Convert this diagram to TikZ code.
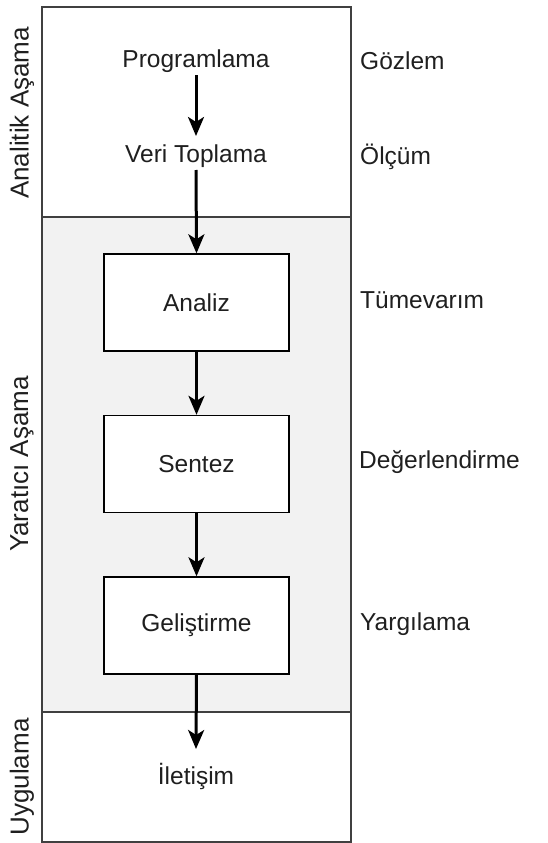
\documentclass[tikz,border=0pt]{standalone}
\usepackage{fontspec}
\setmainfont{Liberation Sans}
\usetikzlibrary{arrows.meta}
\begin{document}
\begin{tikzpicture}[x=1pt,y=-1pt,
  every node/.style={font=\fontsize{24.5}{29}\selectfont, text=black!88, inner sep=0pt},
  frame/.style={draw=black!75, line width=1.3pt},
  stepbox/.style={draw=black, line width=1.4pt, fill=white, minimum width=185pt, minimum height=97pt},
  plain/.style={},
  side/.style={anchor=west},
  phase/.style={rotate=90, font=\fontsize{26}{30}\selectfont},
  flow/.style={draw=black, line width=3pt, -{Stealth[length=19pt,width=16pt,inset=5pt]}}
]
\useasboundingbox (0,0) rectangle (547,843);

% phase bands
\fill[white] (42,7) rectangle (351,217);
\fill[black!5] (42,217) rectangle (351,712);
\fill[white] (42,712) rectangle (351,842);
\draw[frame] (42,7) rectangle (351,842);
\draw[frame] (42,217) -- (351,217);
\draw[frame] (42,712) -- (351,712);

% phase titles
\node[phase] (p1) at (22,113) {Analitik Aşama};
\node[phase] (p2) at (22,464) {Yaratıcı Aşama};
\node[phase] (p3) at (22,777) {Uygulama};

% steps
\node[plain] (prog) at (196,61) {Programlama};
\node[plain] (veri) at (196,156) {Veri Toplama};
\node[stepbox] (analiz) at (196.5,302.5) {Analiz};
\node[stepbox] (sentez) at (196.5,464) {Sentez};
\node[stepbox] (gelis) at (196.5,625.5) {Geliştirme};
\node[plain] (ilet) at (196,776) {İletişim};

% side notes
\node[side] (n1) at (360,61) {Gözlem};
\node[side] (n2) at (360,157) {Ölçüm};
\node[side] (n3) at (360,300) {Tümevarım};
\node[side] (n4) at (359,462) {Değerlendirme};
\node[side] (n5) at (360,624) {Yargılama};

% flow
\coordinate (a1s) at (196,75);
\coordinate (a1e) at (196,136);
\coordinate (a2s) at (196,170);
\coordinate (a5e) at (196,749);
\draw[flow] (a1s) -- (a1e);
\draw[flow] (a2s) -- (analiz.north);
\draw[flow] (analiz.south) -- (sentez.north);
\draw[flow] (sentez.south) -- (gelis.north);
\draw[flow] (gelis.south) -- (a5e);
\end{tikzpicture}
\end{document}
